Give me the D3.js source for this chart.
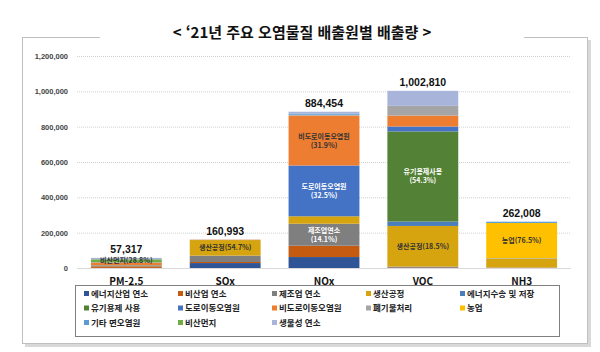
<!DOCTYPE html>
<html lang="ko">
<head>
<meta charset="UTF-8">
<script src="https://cdnjs.cloudflare.com/ajax/libs/d3/7.8.5/d3.min.js"></script>
<style>
  body { margin: 0; background: #fff; }
  svg { font-family: "Noto Sans CJK KR", "Noto Sans", sans-serif; }
</style>
</head>
<body>
<svg width="600" height="352"></svg>
<script>
// pollutants on the x axis
const pollutants = ['PM-2.5', 'SOx', 'NOx', 'VOC', 'NH3'];
const totals = [57317, 160993, 884454, 1002810, 262008];
const yTicks = [0, 200000, 400000, 600000, 800000, 1000000, 1200000];

// emission sources (stack order, bottom to top)
const sources = ['에너지산업 연소', '비산업 연소', '제조업 연소', '생산공정', '에너지수송 및 저장',
  '유기용제 사용', '도로이동오염원', '비도로이동오염원', '폐기물처리', '농업',
  '기타 면오염원', '비산먼지', '생물성 연소'];
const colors = ['#2f5597', '#c55a11', '#7f7f7f', '#d6a40f', '#4a7ebb',
  '#538135', '#4472c4', '#ed7d31', '#a5a5a5', '#ffc000',
  '#5b9bd5', '#70ad47', '#a9b4da'];

// values per source, in pollutant order
const energyInd   = [500, 28000, 62000, 3000, 500];
const nonInd      = [9000, 6000, 64000, 2000, 1500];
const manuf       = [2500, 36000, 124708, 3000, 1000];
const production  = [3000, 88063, 42000, 230000, 48000];
const energyTrans = [0, 0, 0, 25000, 0];
const solvent     = [0, 0, 0, 510000, 0];
const road        = [2000, 200, 287448, 28000, 2500];
const nonRoad     = [14000, 2000, 282141, 61764, 0];
const waste       = [300, 0, 5000, 55000, 1000];
const agri        = [0, 0, 0, 0, 200436];
const otherArea   = [1500, 0, 7000, 0, 7072];
const dust        = [16507, 0, 0, 0, 0];
const biomass     = [8010, 730, 10157, 85046, 0];
const seriesVals = [energyInd, nonInd, manuf, production, energyTrans, solvent,
  road, nonRoad, waste, agri, otherArea, dust, biomass];

// in-bar labels: pollutant, source, lines, text colour
const barLabels = [
  ['PM-2.5', '비산먼지', ['비산먼지(28.8%)'], '#333'],
  ['SOx', '생산공정', ['생산공정(54.7%)'], '#333'],
  ['NOx', '비도로이동오염원', ['비도로이동오염원', '(31.9%)'], '#333'],
  ['NOx', '도로이동오염원', ['도로이동오염원', '(32.5%)'], '#fff'],
  ['NOx', '제조업 연소', ['제조업연소', '(14.1%)'], '#fff'],
  ['VOC', '유기용제 사용', ['유기용제사용', '(54.3%)'], '#fff'],
  ['VOC', '생산공정', ['생산공정(18.5%)'], '#333'],
  ['NH3', '농업', ['농업(76.5%)'], '#333']
];

const table = pollutants.map((p, i) => {
  const row = { cat: p };
  sources.forEach((s, j) => row[s] = seriesVals[j][i]);
  return row;
});

const svg = d3.select('svg');

// outer frame with shadow and title
svg.append('rect').attr('x', 25).attr('y', 40).attr('width', 566).attr('height', 307)
  .attr('fill', '#d9d9d9');
svg.append('rect').attr('x', 22.5).attr('y', 37.5).attr('width', 565).attr('height', 306)
  .attr('fill', '#fff').attr('stroke', '#bfbfbf');
svg.append('rect').attr('x', 100).attr('y', 30).attr('width', 424).attr('height', 12)
  .attr('fill', '#fff');
svg.append('text').attr('x', 302).attr('y', 38)
  .attr('text-anchor', 'middle').attr('font-size', 15).attr('font-weight', 'bold')
  .attr('fill', '#111').text('< ‘21년 주요 오염물질 배출원별 배출량 >');

const y = d3.scaleLinear().domain([0, 1200000]).range([268, 56]);
const x = d3.scaleBand().domain(pollutants).range([76.5, 571.5])
  .paddingInner(0.283).paddingOuter(0.146);

// grid
svg.append('g').selectAll('line').data(yTicks.slice(1)).join('line')
  .attr('x1', 77).attr('x2', 571)
  .attr('y1', d => y(d) + 0.5).attr('y2', d => y(d) + 0.5)
  .attr('stroke', '#d0d0d0').attr('stroke-dasharray', '1,1');
svg.append('line').attr('x1', 77).attr('x2', 571)
  .attr('y1', y(0) + 0.5).attr('y2', y(0) + 0.5).attr('stroke', '#d9d9d9');

// y axis
const yAxis = svg.append('g').attr('transform', 'translate(70,0)')
  .call(d3.axisLeft(y).tickValues(yTicks).tickFormat(d3.format(',')).tickSize(0).tickPadding(2));
yAxis.select('.domain').remove();
yAxis.selectAll('text').attr('font-size', 7.5).attr('font-weight', 'bold')
  .attr('fill', '#444').attr('font-family', '"Liberation Sans", sans-serif');

// stacked bars
const stacked = d3.stack().keys(sources)(table);
svg.append('g').selectAll('g').data(stacked).join('g')
  .attr('fill', (d, i) => colors[i])
  .selectAll('rect').data(d => d).join('rect')
  .attr('x', d => x(d.data.cat))
  .attr('width', x.bandwidth())
  .attr('y', d => y(d[1]))
  .attr('height', d => y(d[0]) - y(d[1]));

// totals above bars
svg.append('g').selectAll('text').data(pollutants).join('text')
  .attr('x', d => x(d) + x.bandwidth() / 2)
  .attr('y', (d, i) => y(totals[i]) - 5)
  .attr('text-anchor', 'middle').attr('font-size', 10.5).attr('font-weight', 'bold')
  .attr('fill', '#111').attr('font-family', '"Liberation Sans", sans-serif')
  .text((d, i) => d3.format(',')(totals[i]));

// labels inside bars
barLabels.forEach(([cat, src, lines, col]) => {
  const layer = stacked[sources.indexOf(src)];
  const seg = layer[pollutants.indexOf(cat)];
  const cy = (y(seg[0]) + y(seg[1])) / 2;
  const lh = 9;
  const t = svg.append('text').attr('text-anchor', 'middle')
    .attr('font-size', 7).attr('font-weight', 'bold').attr('fill', col);
  lines.forEach((l, k) => {
    t.append('tspan').attr('x', x(cat) + x.bandwidth() / 2)
      .attr('y', cy + 2.5 + (k - (lines.length - 1) / 2) * lh).text(l);
  });
});

// category labels
svg.append('g').selectAll('text').data(pollutants).join('text')
  .attr('x', d => x(d) + x.bandwidth() / 2).attr('y', 285)
  .attr('text-anchor', 'middle').attr('font-size', 10).attr('font-weight', 'bold')
  .attr('fill', '#111').text(d => d);

// legend
svg.append('rect').attr('x', 75.5).attr('y', 285.5).attr('width', 484).attr('height', 51)
  .attr('fill', '#fff').attr('stroke', '#7f7f7f');
const leg = svg.append('g').selectAll('g').data(sources).join('g')
  .attr('transform', (d, i) => `translate(${84 + (i % 5) * 94},${295 + Math.floor(i / 5) * 14.5})`);
leg.append('rect').attr('x', 0).attr('y', -4).attr('width', 5).attr('height', 5)
  .attr('fill', (d, i) => colors[i]);
leg.append('text').attr('x', 7).attr('y', 1.5).attr('font-size', 8.5).attr('font-weight', 'bold')
  .attr('fill', '#222').text(d => d);
</script>
</body>
</html>
